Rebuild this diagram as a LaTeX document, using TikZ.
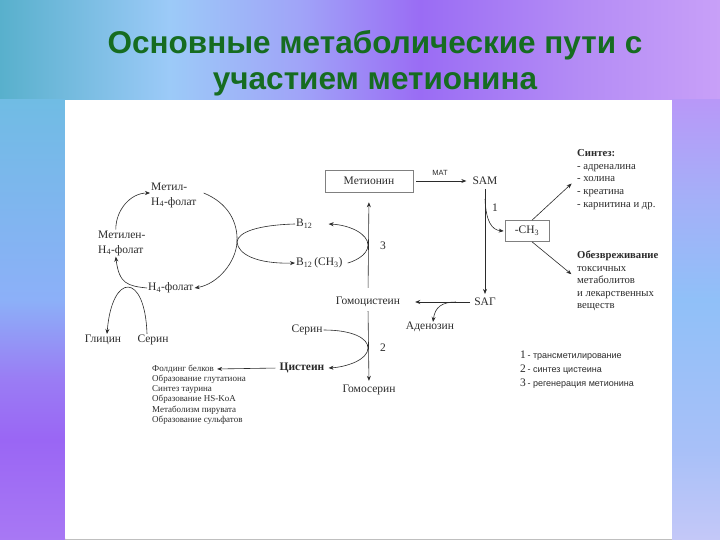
\documentclass[tikz,border=0pt]{standalone}
\usepackage{fontspec}
\setmainfont{Liberation Serif}
\setsansfont{Liberation Sans}
\usetikzlibrary{arrows.meta}
\definecolor{ink}{HTML}{2B2B2B}
\definecolor{ttl}{RGB}{22,108,32}
\definecolor{tA}{HTML}{58B0CC}
\definecolor{tB}{HTML}{9CCAF8}
\definecolor{tC}{HTML}{A0A4F8}
\definecolor{tD}{HTML}{9A6CF4}
\definecolor{tE}{HTML}{B48CF5}
\definecolor{tF}{HTML}{C8A0F8}
\definecolor{lA}{HTML}{A878F4}
\definecolor{lB}{HTML}{9A66F4}
\definecolor{lC}{HTML}{9A7CF4}
\definecolor{lD}{HTML}{8CB0F8}
\definecolor{lE}{HTML}{70BCE4}
\definecolor{rA}{HTML}{C4C8F8}
\definecolor{rB}{HTML}{A8C0F8}
\definecolor{rC}{HTML}{90C0F8}
\definecolor{rD}{HTML}{A4B0F8}
\definecolor{rE}{HTML}{B898F8}
\pgfdeclarehorizontalshading{bgtop}{100bp}{color(0bp)=(tA); color(25bp)=(tA); color(36.8bp)=(tB); color(45.8bp)=(tC); color(54.2bp)=(tD); color(65.3bp)=(tE); color(75bp)=(tF); color(100bp)=(tF)}
\pgfdeclareverticalshading{bgleft}{100bp}{color(0bp)=(lA); color(25bp)=(lA); color(36.4bp)=(lB); color(43.2bp)=(lC); color(52.3bp)=(lD); color(75bp)=(lE); color(100bp)=(lE)}
\pgfdeclareverticalshading{bgright}{100bp}{color(0bp)=(rA); color(25bp)=(rA); color(35.2bp)=(rB); color(52.3bp)=(rC); color(63.6bp)=(rD); color(75bp)=(rE); color(100bp)=(rE)}
\begin{document}
\begin{tikzpicture}[x=1pt,y=-1pt,
  arr/.style={draw=ink, line width=0.6pt, -{Stealth[length=5pt,width=4pt]}},
  lbl/.style={text=ink, font=\fontsize{11.5}{15}\selectfont, inner sep=1pt},
  sm/.style={text=ink, font=\fontsize{10.7}{12.6}\selectfont, inner sep=1pt, align=left, anchor=west},
  tiny/.style={text=ink, font=\fontsize{9}{10.2}\selectfont, inner sep=1pt, anchor=west},
  leg/.style={text=ink, inner sep=1pt, anchor=west},
  boxed/.style={draw=gray, line width=0.6pt, inner sep=2pt},
  title/.style={text=ttl, font=\sffamily\bfseries\fontsize{31.5}{34}\selectfont, inner sep=0pt}]
\useasboundingbox (0,0) rectangle (720,540);
\shade[shading=bgtop] (0,0) rectangle (720,100);
\shade[shading=bgleft] (0,100) rectangle (65,540);
\shade[shading=bgright] (672,100) rectangle (720,540);
\fill[white] (65,100) rectangle (672,538);
\draw[gray!50, line width=0.8pt] (65,539) -- (672,539);
% title
\node[title, anchor=base] (t1) at (375,54) {Основные метаболические пути с};
\node[title, anchor=base] (t2) at (375,90) {участием метионина};
% folate cycle
\node[lbl, anchor=west, align=left] (metil) at (150,195) {Метил-\\H\textsubscript{4}-фолат};
\node[lbl, anchor=west, align=left] (metilen) at (97,243) {Метилен-\\H\textsubscript{4}-фолат};
\node[lbl, anchor=west] (h4) at (147,288) {H\textsubscript{4}-фолат};
\node[lbl] (glicin) at (103,340) {Глицин};
\node[lbl] (serin1) at (153,340) {Серин};
\node[lbl, anchor=west] (b12) at (295,224) {B\textsubscript{12}};
\node[lbl, anchor=west] (b12ch3) at (295,263) {B\textsubscript{12}\,(CH\textsubscript{3})};
\coordinate (cyc) at (237,242);
\draw[arr] ([xshift=-6pt]metilen.north) to[out=90,in=180] ([yshift=2pt]metil.west);
\draw[arr] (h4.west) .. controls (128,286) and (119,284) .. ([xshift=-6pt]metilen.south);
\draw[arr] ([xshift=-6pt]serin1.north) .. controls (145,272) and (112,272) .. ([xshift=4pt]glicin.north);
\draw[arr] ([xshift=6pt,yshift=2pt]metil.east) .. controls (228,203) and (238,222) .. (cyc) .. controls (236,262) and (218,284) .. (h4.east);
\draw[arr] (b12.west) .. controls (258,225) and (238,232) .. (cyc) .. controls (238,254) and (256,264) .. (b12ch3.west);
\draw[arr] ([xshift=4pt]b12ch3.east) .. controls (352,262) and (368,256) .. (368,245) .. controls (368,234) and (350,225) .. ([xshift=15pt]b12.east);
% methionine cycle
\node[boxed, lbl, minimum width=88pt, minimum height=22pt] (met) at (369,181) {Метионин};
\node[lbl] (sam) at (485,181) {SAM};
\node[text=ink, font=\sffamily\fontsize{7.5}{9}\selectfont, inner sep=0pt] (mat) at (440,173) {MAT};
\node[lbl] (sag) at (485,302) {SAГ};
\node[lbl] (gomocist) at (368,302) {Гомоцистеин};
\node[lbl] (adenozin) at (430,327) {Аденозин};
\node[lbl] (serin2) at (307,330) {Серин};
\node[lbl, font=\bfseries\fontsize{11.5}{15}\selectfont] (cistein) at (302,368) {Цистеин};
\node[lbl] (gomoserin) at (369,390) {Гомосерин};
\node[boxed, lbl, minimum width=44pt, minimum height=21pt] (ch3) at (527,231) {-CH\textsubscript{3}};
\node[lbl] (n1) at (495,208) {1};
\node[lbl] (n3) at (383,246) {3};
\node[lbl] (n2) at (383,348) {2};
\coordinate (sagj) at (456,302);
\coordinate (samj) at (485,199);
\draw[arr, shorten <=3pt, shorten >=5pt] (met.east) -- (sam.west);
\draw[arr, shorten <=3pt, shorten >=3pt] (sam.south) -- (sag.north);
\draw[arr] (samj) .. controls (486,222) and (492,230) .. ([xshift=-1pt]ch3.west);
\draw[arr, shorten <=8pt, shorten >=10pt] (gomocist.north) -- (met.south);
\draw[arr, shorten <=3pt, shorten >=14pt] (sag.west) -- (gomocist.east);
\draw[arr] (sagj) .. controls (442,302) and (435,307) .. ([xshift=3pt,yshift=-1pt]adenozin.north);
\draw[arr, shorten <=3pt, shorten >=3pt] (gomocist.south) -- (gomoserin.north);
\draw[arr] (serin2.east) .. controls (352,330) and (368,338) .. (368,348) .. controls (368,360) and (346,367) .. ([xshift=3pt]cistein.east);
% right texts
\node[sm] (sintez) at (576,179.5) {\textbf{Синтез:}\\- адреналина\\- холина\\- креатина\\- карнитина и др.};
\node[sm] (obezv) at (576,281) {\textbf{Обезвреживание}\\токсичных\\метаболитов\\и лекарственных\\веществ};
\draw[arr, shorten >=6pt] ([xshift=5pt]ch3.north) -- (sintez.west);
\draw[arr, shorten >=6pt] ([xshift=5pt]ch3.south) -- ([yshift=3pt]obezv.west);
% cysteine list
\node[tiny] (fold) at (151,369) {Фолдинг белков};
\node[tiny] (l2) at (151,379.2) {Образование глутатиона};
\node[tiny] (l3) at (151,389.4) {Синтез таурина};
\node[tiny] (l4) at (151,399.6) {Образование HS-KoA};
\node[tiny] (l5) at (151,409.8) {Метаболизм пирувата};
\node[tiny] (l6) at (151,420) {Образование сульфатов};
\draw[arr, shorten <=3pt, shorten >=2pt] (cistein.west) -- (fold.east);
% legend
\node[leg] (g1) at (519,356) {{\fontsize{11.5}{12}\selectfont 1}\,{\sffamily\fontsize{9}{10}\selectfont - трансметилирование}};
\node[leg] (g2) at (519,370) {{\fontsize{11.5}{12}\selectfont 2}\,{\sffamily\fontsize{9}{10}\selectfont - синтез цистеина}};
\node[leg] (g3) at (519,384) {{\fontsize{11.5}{12}\selectfont 3}\,{\sffamily\fontsize{9}{10}\selectfont - регенерация метионина}};
\end{tikzpicture}
\end{document}
